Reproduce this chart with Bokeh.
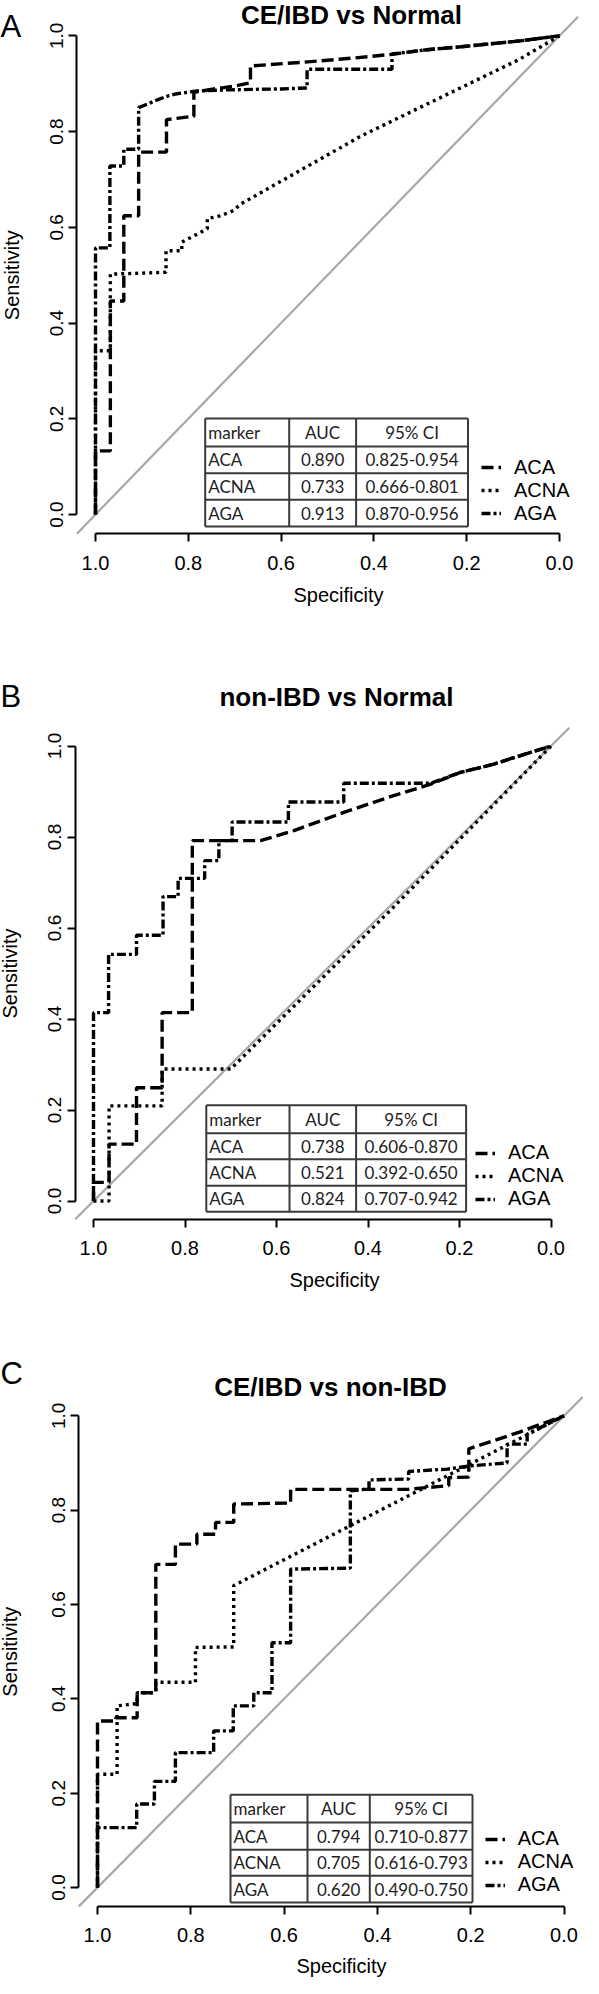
import math
from bokeh.plotting import figure
from bokeh.models import (Range1d, FixedTicker, PrintfTickFormatter, Label,
                          Legend, LegendItem)
from bokeh.layouts import column
from bokeh.core.properties import value
from bokeh.embed import file_html
from bokeh.resources import INLINE

# ---------------- data ----------------
markers = ["ACA", "ACNA", "AGA"]
titles = ["CE/IBD vs Normal", "non-IBD vs Normal", "CE/IBD vs non-IBD"]
letters = ["A", "B", "C"]
ticks = [0.0, 0.2, 0.4, 0.6, 0.8, 1.0]
table_header = ["marker", "AUC", "95% CI"]
x_title = "Specificity"
y_title = "Sensitivity"

A_auc = ["0.890", "0.733", "0.913"]
A_ci = ["0.825-0.954", "0.666-0.801", "0.870-0.956"]
B_auc = ["0.738", "0.521", "0.824"]
B_ci = ["0.606-0.870", "0.392-0.650", "0.707-0.942"]
C_auc = ["0.794", "0.705", "0.620"]
C_ci = ["0.710-0.877", "0.616-0.793", "0.490-0.750"]

A_ACA_spec = [1.0, 1.0, 0.968, 0.968, 0.939, 0.939, 0.907, 0.907, 0.847, 0.847, 0.788, 0.788, 0.745, 0.700, 0.666, 0.666, 0.550, 0.450, 0.364, 0.285, 0.213, 0.142, 0.088, 0.0]
A_ACA_sens = [0.0, 0.133, 0.133, 0.446, 0.446, 0.624, 0.624, 0.757, 0.757, 0.825, 0.832, 0.882, 0.889, 0.895, 0.902, 0.937, 0.945, 0.953, 0.961, 0.971, 0.977, 0.984, 0.989, 1.0]
A_ACNA_spec = [1.0, 1.0, 0.968, 0.968, 0.848, 0.848, 0.814, 0.814, 0.788, 0.759, 0.759, 0.731, 0.702, 0.688, 0.429, 0.088, 0.0]
A_ACNA_sens = [0.0, 0.342, 0.342, 0.502, 0.506, 0.551, 0.551, 0.569, 0.582, 0.597, 0.618, 0.624, 0.635, 0.648, 0.790, 0.950, 1.0]
A_AGA_spec = [1.0, 1.0, 0.969, 0.969, 0.939, 0.939, 0.907, 0.907, 0.889, 0.867, 0.845, 0.824, 0.802, 0.781, 0.720, 0.600, 0.544, 0.544, 0.361, 0.361, 0.285, 0.213, 0.142, 0.088, 0.0]
A_AGA_sens = [0.0, 0.557, 0.557, 0.728, 0.728, 0.763, 0.763, 0.850, 0.857, 0.866, 0.874, 0.879, 0.882, 0.885, 0.887, 0.889, 0.891, 0.930, 0.930, 0.962, 0.971, 0.977, 0.984, 0.989, 1.0]

B_ACA_spec = [1.0, 1.0, 0.966, 0.966, 0.906, 0.906, 0.850, 0.850, 0.784, 0.784, 0.635, 0.562, 0.453, 0.344, 0.263, 0.198, 0.125, 0.070, 0.0]
B_ACA_sens = [0.0, 0.041, 0.041, 0.125, 0.125, 0.249, 0.249, 0.414, 0.414, 0.792, 0.792, 0.814, 0.854, 0.891, 0.916, 0.942, 0.960, 0.978, 1.0]
B_ACNA_spec = [1.0, 0.966, 0.966, 0.850, 0.850, 0.700, 0.350, 0.0]
B_ACNA_sens = [0.0, 0.0, 0.209, 0.209, 0.290, 0.290, 0.640, 1.0]
B_AGA_spec = [1.0, 1.0, 0.967, 0.967, 0.906, 0.906, 0.848, 0.848, 0.815, 0.815, 0.757, 0.757, 0.726, 0.726, 0.697, 0.697, 0.574, 0.574, 0.453, 0.453, 0.263, 0.198, 0.125, 0.070, 0.0]
B_AGA_sens = [0.0, 0.414, 0.414, 0.542, 0.542, 0.584, 0.584, 0.669, 0.669, 0.709, 0.709, 0.748, 0.748, 0.792, 0.792, 0.833, 0.833, 0.877, 0.877, 0.918, 0.918, 0.942, 0.960, 0.978, 1.0]

C_ACA_spec = [1.0, 1.0, 0.961, 0.961, 0.915, 0.915, 0.875, 0.875, 0.833, 0.833, 0.787, 0.787, 0.747, 0.747, 0.708, 0.708, 0.586, 0.586, 0.336, 0.247, 0.247, 0.204, 0.204, 0.097, 0.0]
C_ACA_sens = [0.0, 0.353, 0.353, 0.360, 0.360, 0.413, 0.413, 0.685, 0.685, 0.728, 0.728, 0.749, 0.749, 0.774, 0.774, 0.813, 0.815, 0.844, 0.844, 0.852, 0.869, 0.870, 0.930, 0.965, 1.0]
C_ACNA_spec = [1.0, 1.0, 0.958, 0.958, 0.915, 0.915, 0.875, 0.875, 0.790, 0.790, 0.708, 0.708, 0.0]
C_ACNA_sens = [0.0, 0.240, 0.240, 0.385, 0.390, 0.413, 0.413, 0.435, 0.435, 0.509, 0.510, 0.640, 1.0]
C_AGA_spec = [1.0, 1.0, 0.916, 0.916, 0.878, 0.878, 0.833, 0.833, 0.751, 0.751, 0.709, 0.709, 0.665, 0.665, 0.626, 0.626, 0.586, 0.586, 0.458, 0.458, 0.418, 0.418, 0.333, 0.333, 0.250, 0.200, 0.122, 0.122, 0.079, 0.079, 0.0]
C_AGA_sens = [0.0, 0.127, 0.127, 0.177, 0.177, 0.225, 0.225, 0.286, 0.286, 0.332, 0.332, 0.385, 0.385, 0.413, 0.413, 0.519, 0.519, 0.675, 0.677, 0.841, 0.845, 0.864, 0.866, 0.882, 0.887, 0.894, 0.900, 0.940, 0.940, 0.961, 1.0]

curves = {
    "A": [(A_ACA_spec, A_ACA_sens), (A_ACNA_spec, A_ACNA_sens), (A_AGA_spec, A_AGA_sens)],
    "B": [(B_ACA_spec, B_ACA_sens), (B_ACNA_spec, B_ACNA_sens), (B_AGA_spec, B_AGA_sens)],
    "C": [(C_ACA_spec, C_ACA_sens), (C_ACNA_spec, C_ACNA_sens), (C_AGA_spec, C_AGA_sens)],
}
tables = {"A": (A_auc, A_ci), "B": (B_auc, B_ci), "C": (C_auc, C_ci)}

# ---------------- styles / layout (page pixels) ----------------
dashes = ["12 5", "3 4", "9 3 3 3"]
FONT = "Liberation Sans"
TABLE_FONT = "Lato"
PAGE_L, PAGE_R = 8, 591
EXT = 0.04  # R-style 4% range extension

layout_cfg = {
    "A": dict(top=8, bottom=640, x1=103, x0=567, y1=43.3, y0=522.0,
              title=(359, 22), letter=(8, 34), xlab=(346, 602), ylab_x=19,
              cols=[212.7, 296.7, 363.6, 475.5], rows=[426, 454, 480.7, 507.3, 534],
              legend=(489, 532.5)),
    "B": dict(top=640, bottom=1300, x1=101, x0=558.5, y1=753.5, y0=1208.5,
              title=(344, 704), letter=(8, 704), xlab=(342, 1287), ylab_x=17,
              cols=[213.8, 297.0, 363.6, 473.6], rows=[1112.7, 1140.7, 1166.7, 1193.3, 1219.3],
              legend=(483, 1218)),
    "C": dict(top=1300, bottom=1986, x1=105, x0=571.5, y1=1423.3, y0=1895.0,
              title=(338, 1394), letter=(8, 1381), xlab=(349, 1973), ylab_x=17,
              cols=[238, 315, 377.3, 480], rows=[1802.3, 1830, 1857.3, 1883.3, 1910],
              legend=(492.7, 1904)),
}

# chance line across the R plotting region
diag_spec = [1 + EXT, -EXT]
diag_sens = [1 - v for v in diag_spec]


def make_panel(key, idx):
    c = layout_cfg[key]
    W = c["x0"] - c["x1"]
    H = c["y0"] - c["y1"]
    f_top = c["y1"] - EXT * H
    f_bot = c["y0"] + EXT * H
    height = c["bottom"] - c["top"]

    def sx(px):
        return 1 - (px - c["x1"]) / W

    def sy(py):
        return (c["y0"] - py) / H

    p = figure(width=PAGE_R - PAGE_L, height=height,
               x_range=Range1d(sx(PAGE_L), sx(PAGE_R)),
               y_range=Range1d(sy(c["bottom"]), sy(c["top"])),
               output_backend="svg", toolbar_location=None,
               min_border_left=0, min_border_right=0, min_border_top=0, min_border_bottom=0)
    p.title.visible = False
    p.outline_line_color = None
    p.grid.visible = False
    p.background_fill_color = "white"
    p.border_fill_color = "white"

    for ax in (p.xaxis, p.yaxis):
        ax.ticker = FixedTicker(ticks=ticks)
        ax.formatter = PrintfTickFormatter(format="%.1f")
        ax.bounds = (0, 1)
        ax.axis_line_width = 2
        ax.axis_line_color = "black"
        ax.major_tick_line_width = 2
        ax.major_tick_line_color = "black"
        ax.major_tick_out = 8
        ax.major_tick_in = 0
        ax.minor_tick_line_color = None
        ax.major_label_text_font = FONT
        ax.major_label_text_color = "black"
    p.xaxis.fixed_location = -EXT
    p.yaxis.fixed_location = 1 + EXT
    p.xaxis.major_label_text_font_size = "20px"
    p.yaxis.major_label_text_font_size = "19px"
    p.yaxis.major_label_orientation = "vertical"
    p.xaxis.major_label_standoff = 14
    p.yaxis.major_label_standoff = 6

    # axis titles
    xlx, xly = c["xlab"]
    p.text([sx(xlx)], [sy(xly)], text=[x_title], text_font=value(FONT),
           text_font_size=value("20px"), text_align="center", text_baseline="middle",
           text_color="black")
    p.text([sx(c["ylab_x"])], [sy((f_top + f_bot) / 2)], text=[y_title], angle=math.pi / 2,
           text_font=value(FONT), text_font_size=value("20px"), text_align="center",
           text_baseline="middle", text_color="black")

    # chance diagonal
    p.line(diag_spec, diag_sens, line_color="#a8a8a8", line_width=2.2)

    # ROC curves
    rends = []
    for (xs, ys), dash in zip(curves[key], dashes):
        r = p.line(xs, ys, line_color="black", line_width=3.4, line_dash=dash)
        rends.append(r)

    # table
    cols, rows = c["cols"], c["rows"]
    hx0 = [sx(cols[0])] * len(rows)
    hx1 = [sx(cols[-1])] * len(rows)
    hy = [sy(r) for r in rows]
    p.segment(hx0, hy, hx1, hy, line_color="#3a3a3a", line_width=2)
    vx = [sx(cc) for cc in cols]
    p.segment(vx, [sy(rows[0])] * len(cols), vx, [sy(rows[-1])] * len(cols),
              line_color="#3a3a3a", line_width=2)
    auc, ci = tables[key]
    col0 = [table_header[0]] + markers
    col1 = [table_header[1]] + auc
    col2 = [table_header[2]] + ci
    ry = [sy((rows[i] + rows[i + 1]) / 2) for i in range(4)]
    for xs_px, txt, align in ((cols[0] + 3, col0, "left"),
                              ((cols[1] + cols[2]) / 2, col1, "center"),
                              ((cols[2] + cols[3]) / 2, col2, "center")):
        p.text([sx(xs_px)] * 4, ry, text=txt, text_font=value(TABLE_FONT),
               text_font_size=value("17px"), text_align=align, text_baseline="middle",
               text_color="#222222")

    # legend
    lx, lyb = c["legend"]
    leg = Legend(items=[LegendItem(label=m, renderers=[r]) for m, r in zip(markers, rends)],
                 location=(lx - PAGE_L, c["bottom"] - lyb), orientation="vertical",
                 glyph_width=20, glyph_height=20, label_height=20, spacing=0,
                 padding=0, margin=0, label_standoff=13, border_line_color=None,
                 background_fill_alpha=0.0, label_text_font=FONT,
                 label_text_font_size="20px", label_text_color="black")
    p.add_layout(leg)

    # title and panel letter
    tx, ty = c["title"]
    p.add_layout(Label(x=sx(tx), y=sy(ty), text=titles[idx], text_align="center",
                       text_baseline="middle", text_font=FONT, text_font_style="bold",
                       text_font_size="26px", text_color="black"))
    lx2, ly2 = c["letter"]
    p.add_layout(Label(x=sx(lx2), y=sy(ly2), text=letters[idx], text_align="left",
                       text_baseline="middle", text_font=FONT,
                       text_font_size="31px", text_color="black"))
    return p


panels = [make_panel(k, i) for i, k in enumerate(["A", "B", "C"])]
page = column(*panels, spacing=0)
open("out.html", "w").write(file_html(page, INLINE, title="ROC curves"))
